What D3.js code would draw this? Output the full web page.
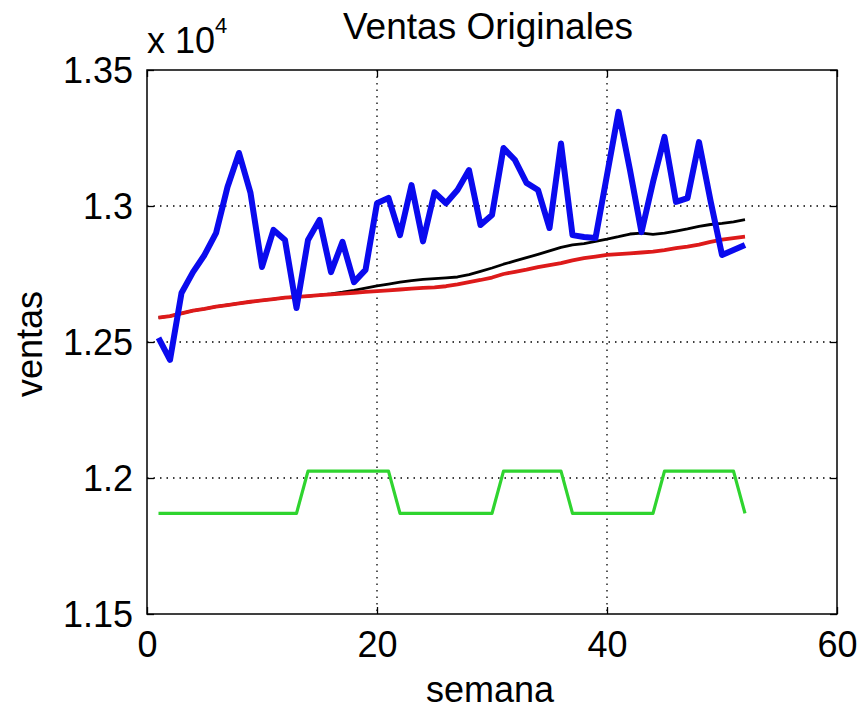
<!DOCTYPE html>
<html><head><meta charset="utf-8">
<script src="https://cdn.jsdelivr.net/npm/d3@7"></script>
<style>body{margin:0;background:#fff}svg{display:block}text{font-family:"Liberation Sans",Arial,sans-serif;fill:#000}</style>
</head><body><svg id="c" width="860" height="714"></svg>
<script>
const weeks = d3.range(1, 53);
const ventas = [12515,12434,12680,12757,12820,12900,13070,13195,13048,12776,12912,12875,12625,12875,12949,12757,12868,12720,12765,13010,13030,12893,13077,12870,13050,13010,13059,13132,12930,12967,13213,13169,13085,13059,12919,13230,12893,12886,12882,13114,13346,13132,12904,13088,13254,13015,13029,13235,13020,12820,12838,12857];
const tendencia = [12590,12595,12605,12615,12622,12630,12636,12642,12648,12653,12658,12663,12666,12669,12672,12677,12683,12690,12698,12706,12713,12720,12726,12730,12733,12736,12739,12748,12760,12772,12786,12798,12810,12822,12835,12848,12857,12862,12870,12878,12887,12897,12900,12896,12900,12908,12916,12925,12932,12936,12942,12950];
const ajuste = [12590,12595,12605,12615,12622,12630,12636,12642,12648,12653,12658,12663,12666,12669,12672,12675,12678,12681,12684,12687,12690,12693,12696,12699,12701,12705,12712,12720,12728,12737,12750,12758,12766,12775,12783,12790,12800,12808,12814,12820,12823,12826,12829,12832,12838,12845,12851,12858,12868,12876,12882,12887];
const estacional = [11870,11870,11870,11870,11870,11870,11870,11870,11870,11870,11870,11870,11870,12025,12025,12025,12025,12025,12025,12025,12025,11870,11870,11870,11870,11870,11870,11870,11870,11870,12025,12025,12025,12025,12025,12025,11870,11870,11870,11870,11870,11870,11870,11870,12025,12025,12025,12025,12025,12025,12025,11870];
const xTicks = [0,20,40,60];
const yTicks = [11500,12000,12500,13000,13500];
const yTickLabels = ["1.15","1.2","1.25","1.3","1.35"];

const svg = d3.select("#c");
const L=147, R=837, T=70, B=614;
const x = d3.scaleLinear().domain([0,60]).range([L,R]);
const y = d3.scaleLinear().domain([11500,13500]).range([B,T]);

// grid
const g = svg.append("g");
[20,40].forEach(v=>g.append("line").attr("x1",x(v)).attr("x2",x(v)).attr("y1",T).attr("y2",B)
  .attr("stroke","#000").attr("stroke-width",1.3).attr("stroke-dasharray","1.5,5"));
[12000,12500,13000].forEach(v=>g.append("line").attr("x1",L).attr("x2",R).attr("y1",y(v)).attr("y2",y(v))
  .attr("stroke","#000").attr("stroke-width",1.3).attr("stroke-dasharray","1.5,5"));

// axes (inward ticks, box)
const tl = -7;
svg.append("g").attr("transform",`translate(0,${B})`)
  .call(d3.axisBottom(x).tickValues(xTicks).tickSizeInner(tl).tickSizeOuter(0).tickPadding(20))
  .call(a=>{a.select(".domain").remove();a.selectAll("text").attr("font-size",36).attr("dy","0.71em").attr("y",17);});
svg.append("g").attr("transform",`translate(0,${T})`)
  .call(d3.axisTop(x).tickValues(xTicks).tickSizeInner(tl).tickSizeOuter(0).tickFormat(""))
  .call(a=>a.select(".domain").remove());
svg.append("g").attr("transform",`translate(${L},0)`)
  .call(d3.axisLeft(y).tickValues(yTicks).tickSizeInner(tl).tickSizeOuter(0).tickFormat((d,i)=>yTickLabels[i]))
  .call(a=>{a.select(".domain").remove();a.selectAll("text").attr("font-size",36).attr("x",-14).attr("dy","0.35em");});
svg.append("g").attr("transform",`translate(${R},0)`)
  .call(d3.axisRight(y).tickValues(yTicks).tickSizeInner(tl).tickSizeOuter(0).tickFormat(""))
  .call(a=>a.select(".domain").remove());
svg.selectAll(".tick line").attr("stroke","#000").attr("stroke-width",1.3);

// lines
const line = d3.line().x((d,i)=>x(weeks[i])).y(d=>y(d));
const series = [
  {data:estacional, color:"#2fd42f", w:3.2},
  {data:tendencia, color:"#000000", w:2.8},
  {data:ajuste, color:"#dd1a1a", w:3.8},
  {data:ventas, color:"#0a0aee", w:6}
];
series.forEach(s=>svg.append("path").datum(s.data).attr("d",line).attr("fill","none")
  .attr("stroke",s.color).attr("stroke-width",s.w).attr("stroke-linejoin","round"));

// frame
svg.append("rect").attr("x",L).attr("y",T).attr("width",R-L).attr("height",B-T)
  .attr("fill","none").attr("stroke","#000").attr("stroke-width",1.5);

// texts
svg.append("text").attr("x",488).attr("y",39).attr("text-anchor","middle").attr("font-size",37).text("Ventas Originales");
svg.append("text").attr("x",490).attr("y",702).attr("text-anchor","middle").attr("font-size",36).text("semana");
svg.append("text").attr("transform","translate(42,344) rotate(-90)").attr("text-anchor","middle").attr("font-size",36).text("ventas");
const ex = svg.append("text").attr("x",147).attr("y",53).attr("font-size",36);
ex.append("tspan").text("x 10");
ex.append("tspan").attr("font-size",22).attr("dy",-20).text("4");
</script></body></html>
